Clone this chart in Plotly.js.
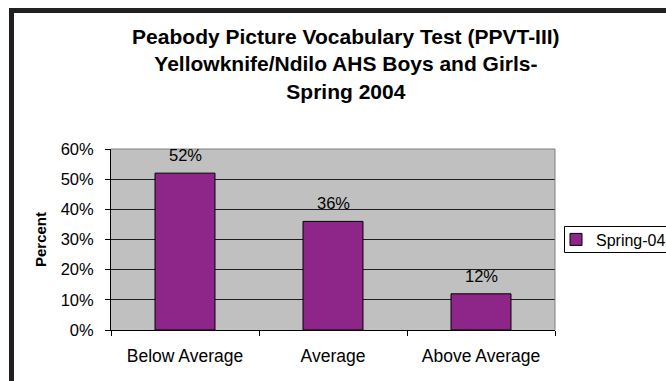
<!DOCTYPE html>
<html>
<head>
<meta charset="utf-8">
<script src="https://cdn.plot.ly/plotly-3.0.1.min.js"></script>
<style>
  html, body { margin: 0; padding: 0; background: #ffffff; }
  #wrap { position: relative; width: 666px; height: 381px; overflow: hidden; }
  #chart { width: 666px; height: 381px; }
  #frame { position: absolute; left: 9px; top: 8px; width: 700px; height: 420px;
           border-top: 5px solid #231f20; border-left: 5px solid #231f20;
           box-sizing: border-box; pointer-events: none; z-index: 10; }
</style>
</head>
<body>
<div id="wrap">
  <div id="chart"></div>
  <div id="frame"></div>
</div>
<script>
const categories = ["Below Average", "Average", "Above Average"];
const values = [0.52, 0.36, 0.12];
const valueLabels = ["52%", "36%", "12%"];
const seriesName = "Spring-04";
const yTickVals = [0, 0.1, 0.2, 0.3, 0.4, 0.5, 0.6];
const yTickText = ["0%", "10%", "20%", "30%", "40%", "50%", "60%"];
const titleText = "Peabody Picture Vocabulary Test (PPVT-III)<br>Yellowknife/Ndilo AHS Boys and Girls-<br>Spring 2004";

const FONT = "Arial, 'Liberation Sans', Helvetica, sans-serif";

const PL = 111, PW = 444, PB = 330, PH = 181;
const px = v => (v - PL) / PW;
const py = v => (PB - v) / PH;

const trace = {
  type: "bar",
  x: categories,
  y: values,
  name: seriesName,
  marker: { color: "#8e268a", line: { color: "#000000", width: 1 } },
  hoverinfo: "skip",
  showlegend: true
};

const annotations = categories.map((c, i) => ({
  x: c, y: values[i], xref: "x", yref: "y",
  text: valueLabels[i], showarrow: false,
  yanchor: "bottom", yshift: 7,
  font: { family: FONT, size: 16.5, color: "#000000" }
}));

const layout = {
  width: 666, height: 381,
  margin: { l: 111, r: 111, t: 149, b: 51, pad: 0 },
  paper_bgcolor: "#ffffff",
  plot_bgcolor: "#c0c0c0",
  font: { family: FONT, size: 16.5, color: "#000000" },
  title: {
    text: titleText,
    font: { family: FONT, size: 21, color: "#000000", weight: "bold" },
    xref: "paper", x: 0.529, xanchor: "center",
    yref: "container", y: 1 - 44/381, yanchor: "top",
    automargin: false
  },
  bargap: 0.595,
  showlegend: true,
  legend: {
    xref: "container", yref: "container",
    x: 556/666, xanchor: "left", y: 1 - 239.5/381, yanchor: "middle",
    bgcolor: "rgba(0,0,0,0)", borderwidth: 0,
    font: { family: FONT, size: 16, color: "#000000" }
  },
  xaxis: {
    type: "category",
    showgrid: false,
    showline: true, linecolor: "#000000", linewidth: 1,
    ticks: "outside", tickson: "boundaries", ticklen: 5, tickcolor: "#000000",
    ticklabelstandoff: 10,
    tickfont: { family: FONT, size: 17.5, color: "#000000" },
    zeroline: false, fixedrange: true
  },
  yaxis: {
    range: [0, 0.6],
    tickvals: yTickVals, ticktext: yTickText,
    showgrid: true, gridcolor: "#1e1e1e", gridwidth: 1,
    showline: true, linecolor: "#000000", linewidth: 1,
    ticks: "outside", ticklen: 5, tickcolor: "#000000",
    ticklabelstandoff: 8,
    tickfont: { family: FONT, size: 16.5, color: "#000000" },
    zeroline: false, fixedrange: true,
    title: { text: "Percent", standoff: 10, font: { family: FONT, size: 15, color: "#000000", weight: "bold" } }
  },
  shapes: [
    { type: "path", xref: "paper", yref: "paper", path: "M0,1 L1,1 L1,0",
      line: { color: "#808080", width: 1 }, layer: "above" },
    { type: "path", xref: "paper", yref: "paper",
      path: `M${px(720)},${py(252.5)} L${px(564.5)},${py(252.5)} L${px(564.5)},${py(226.5)} L${px(720)},${py(226.5)}`,
      line: { color: "#000000", width: 1 }, layer: "above" },
    { type: "rect", xref: "paper", yref: "paper",
      x0: px(9), x1: px(14), y0: py(400), y1: py(8),
      fillcolor: "#231f20", line: { width: 0 }, layer: "above" },
    { type: "rect", xref: "paper", yref: "paper",
      x0: px(9), x1: px(666), y0: py(13), y1: py(8),
      fillcolor: "#231f20", line: { width: 0 }, layer: "above" }
  ],
  annotations: annotations
};

Plotly.newPlot("chart", [trace], layout, { displayModeBar: false, staticPlot: true });
</script>
</body>
</html>
